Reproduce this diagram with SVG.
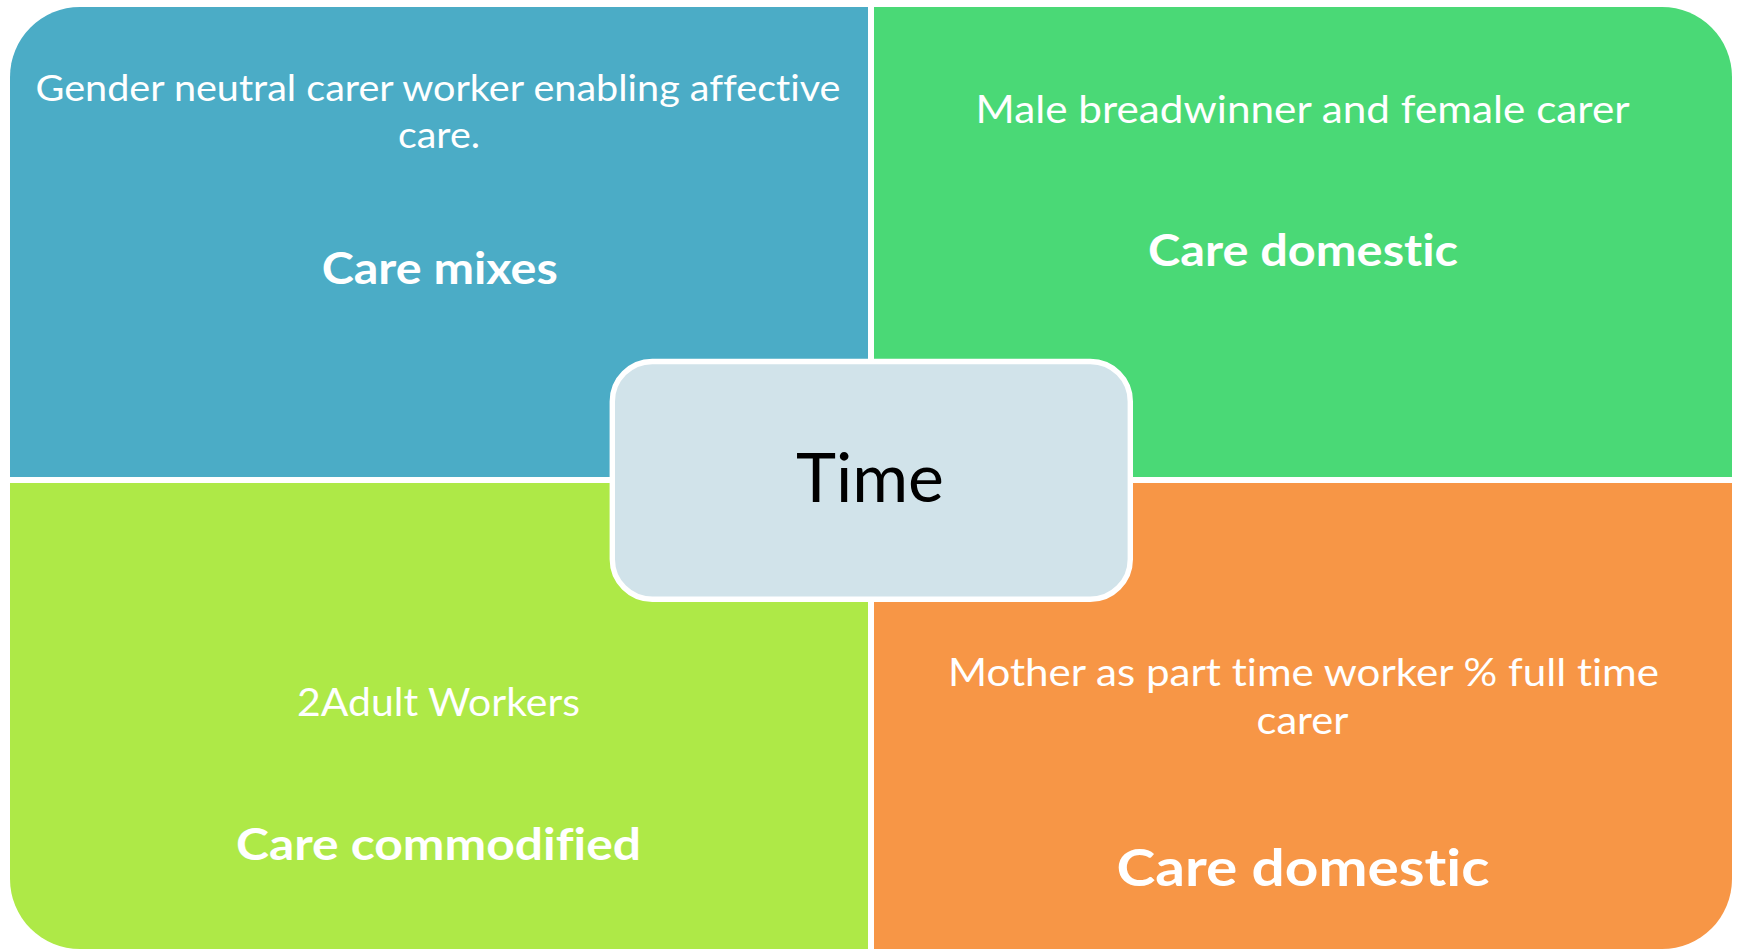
<svg xmlns="http://www.w3.org/2000/svg" width="1739" height="950" viewBox="0 0 1739 950">
<style>
.t{font-family:Lato,"Open Sans","Liberation Sans",sans-serif;fill:#fff;text-anchor:middle;font-variant-ligatures:none}
.n{font-weight:400}
.b{font-weight:700}
</style>
<rect x="0" y="0" width="1739" height="950" fill="#fff"/>
<g id="connectors"></g>
<g id="q-care-mixes">
<path d="M868 7V477H10V77A70 70 0 0 1 80 7Z" fill="#4BACC6"/>
<text class="t n" x="438" y="100.5" font-size="37" textLength="805" lengthAdjust="spacingAndGlyphs">Gender neutral carer worker enabling affective</text>
<text class="t n" x="439" y="148" font-size="37" textLength="82" lengthAdjust="spacingAndGlyphs">care.</text>
<text class="t b" x="439.7" y="284" font-size="44" textLength="236" lengthAdjust="spacingAndGlyphs">Care mixes</text>
</g>
<g id="q-care-domestic-1">
<path d="M874 7H1662A70 70 0 0 1 1732 77V477H874Z" fill="#4AD976"/>
<text class="t n" x="1302.6" y="122.7" font-size="38.5" textLength="654" lengthAdjust="spacingAndGlyphs">Male breadwinner and female carer</text>
<text class="t b" x="1303" y="266" font-size="44" textLength="310" lengthAdjust="spacingAndGlyphs">Care domestic</text>
</g>
<g id="q-care-commodified">
<path d="M10 483H868V949H80A70 70 0 0 1 10 879Z" fill="#AEE947"/>
<text class="t n" x="438.5" y="716" font-size="38" textLength="283" lengthAdjust="spacingAndGlyphs">2Adult Workers</text>
<text class="t b" x="438.5" y="860" font-size="44" textLength="405" lengthAdjust="spacingAndGlyphs">Care commodified</text>
</g>
<g id="q-care-domestic-2">
<path d="M874 483H1732V879A70 70 0 0 1 1662 949H874Z" fill="#F79646"/>
<text class="t n" x="1303.5" y="686" font-size="39.5" textLength="711" lengthAdjust="spacingAndGlyphs">Mother as part time worker % full time</text>
<text class="t n" x="1302.5" y="734.3" font-size="39.5" textLength="92" lengthAdjust="spacingAndGlyphs">carer</text>
<text class="t b" x="1303" y="886" font-size="52.5" textLength="373" lengthAdjust="spacingAndGlyphs">Care domestic</text>
</g>
<g id="center-time">
<rect x="612.3" y="361.5" width="518" height="237.7" rx="40" ry="40" fill="#D1E3EA" stroke="#fff" stroke-width="5.4"/>
<text x="870" y="501.7" font-family="Lato,'Open Sans','Liberation Sans',sans-serif" font-size="68.4" fill="#000" text-anchor="middle" textLength="148" lengthAdjust="spacingAndGlyphs">Time</text>
</g>
</svg>
